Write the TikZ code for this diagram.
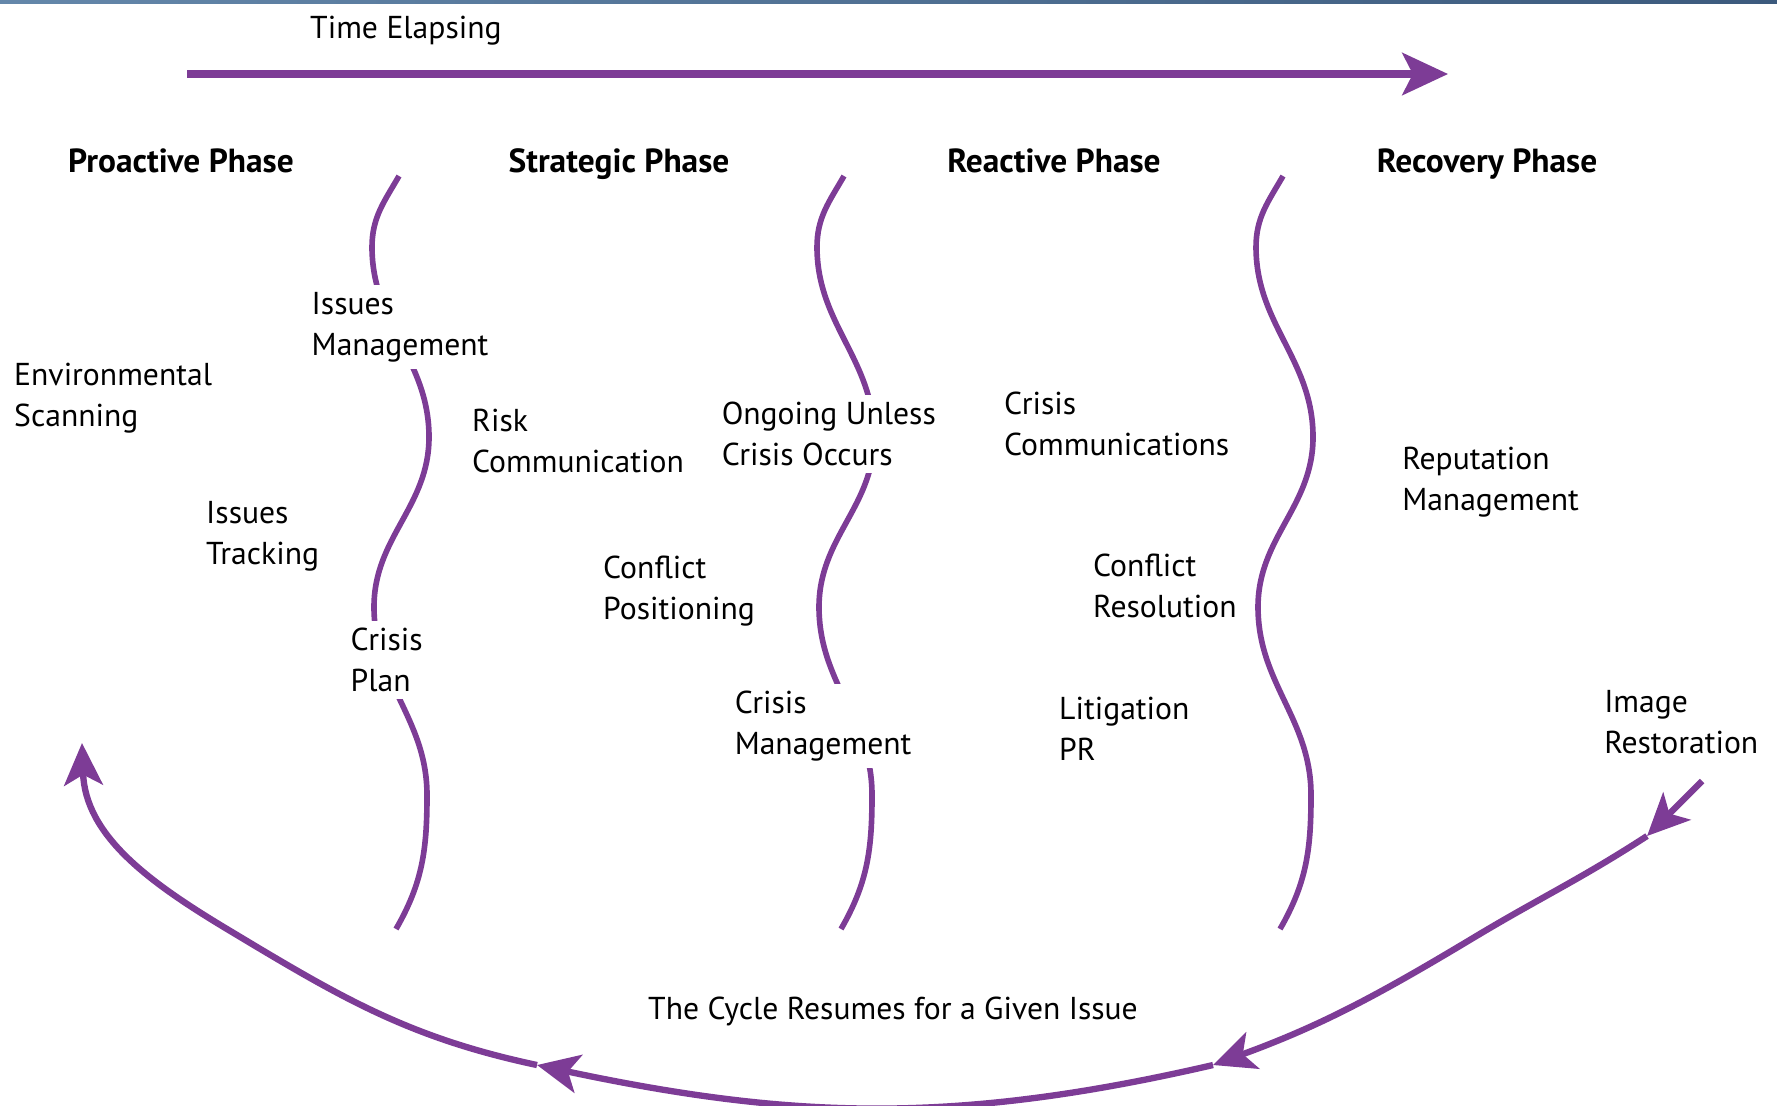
\documentclass[tikz,border=0pt]{standalone}
\usepackage{fontspec}
\setmainfont{PT Sans}
\usepackage{tikz}
\usetikzlibrary{arrows.meta}
\definecolor{phase}{RGB}{125,60,150}
\definecolor{barleft}{RGB}{100,135,170}
\definecolor{barright}{RGB}{60,90,125}

\begin{document}
\begin{tikzpicture}[x=0.01cm, y=-0.01cm,
    txt/.style={font=\fontsize{9}{11.7}\selectfont, align=left, inner sep=1pt},
    lbl/.style={txt, anchor=west},
    gap/.style={lbl, fill=white, inner sep=2pt},
    head/.style={txt, anchor=base, font=\fontsize{9.5}{11.7}\selectfont\bfseries},
    wave/.style={draw=phase, line width=1.6pt},
    cyc/.style={draw=phase, line width=1.8pt, -{Stealth[length=12pt,width=11pt,inset=3pt]}}]
    \useasboundingbox (0,0) rectangle (1777,1105);
    \shade[left color=barleft, right color=barright] (0,0) rectangle (1777,3);

    % time line
    \coordinate (t0) at (187,74);
    \coordinate (t1) at (1448,74);
    \draw[phase, line width=2pt, -{Stealth[length=13pt,width=12pt,inset=3pt]}] (t0) -- (t1);
    \node[lbl] (time) at (306,31) {Time Elapsing};

    \node[head] (proactive) at (181,172) {Proactive Phase};
    \node[head] (strategic) at (619,172) {Strategic Phase};
    \node[head] (reactive) at (1054,172) {Reactive Phase};
    \node[head] (recovery) at (1487,172) {Recovery Phase};

    % phase borders
    \draw[wave, shift={(399,0)}] (0,176) to[out=-120,in=90] (-27,247) to[out=-90,in=90] (30,437)
        to[out=-90,in=90] (-25,607) to[out=-90,in=90] (28,795) to[out=-90,in=60] (-3,929);
    \draw[wave, shift={(844,0)}] (0,176) to[out=-120,in=90] (-27,247) to[out=-90,in=90] (30,437)
        to[out=-90,in=90] (-25,607) to[out=-90,in=90] (28,795) to[out=-90,in=60] (-3,929);
    \draw[wave, shift={(1283,0)}] (0,176) to[out=-120,in=90] (-27,247) to[out=-90,in=90] (30,437)
        to[out=-90,in=90] (-25,607) to[out=-90,in=90] (28,795) to[out=-90,in=60] (-3,929);

    \node[lbl] (envscan) at (10,398) {Environmental\\Scanning};
    \node[gap] (issmgmt) at (304,327) {Issues\\Management};
    \node[lbl] (isstrack) at (202,536) {Issues\\Tracking};
    \node[gap] (crisisplan) at (343,660) {Crisis\\Plan};

    \node[lbl] (riskcomm) at (468,441) {Risk\\Communication};
    \node[gap] (ongoing) at (714,434) {Ongoing Unless\\Crisis Occurs};
    \node[lbl] (conflictpos) at (599,591) {Conflict\\Positioning};
    \node[gap] (crisismgmt) at (727,726) {Crisis\\Management};

    \node[lbl] (crisiscomm) at (1000,424) {Crisis\\Communications};
    \node[lbl] (conflictres) at (1089,586) {Conflict\\Resolution};
    \node[lbl] (litigation) at (1055,729) {Litigation\\PR};

    \node[lbl] (reputation) at (1398,482) {Reputation\\Management};
    \node[lbl] (image) at (1600,722) {Image\\Restoration};

    % cycle back
    \coordinate (s) at (1702,781);
    \coordinate (a1) at (1647,836);
    \coordinate (p) at (1473,938);
    \coordinate (a2) at (1213,1065);
    \coordinate (a3) at (537,1065);
    \coordinate (q) at (227,929);
    \coordinate (e) at (82,743);
    \draw[cyc] (s) to[out=225,in=45] (a1);
    \draw[cyc] (a1) to[out=213,in=31] (p) to[out=211,in=20] (a2);
    \draw[cyc] (a2) to[out=193,in=-12] (a3);
    \draw[cyc] (a3) to[out=168,in=-31] (q) to[out=149,in=-88] (e);
    \node[txt] (cycle) at (893,1011) {The Cycle Resumes for a Given Issue};
\end{tikzpicture}
\end{document}
